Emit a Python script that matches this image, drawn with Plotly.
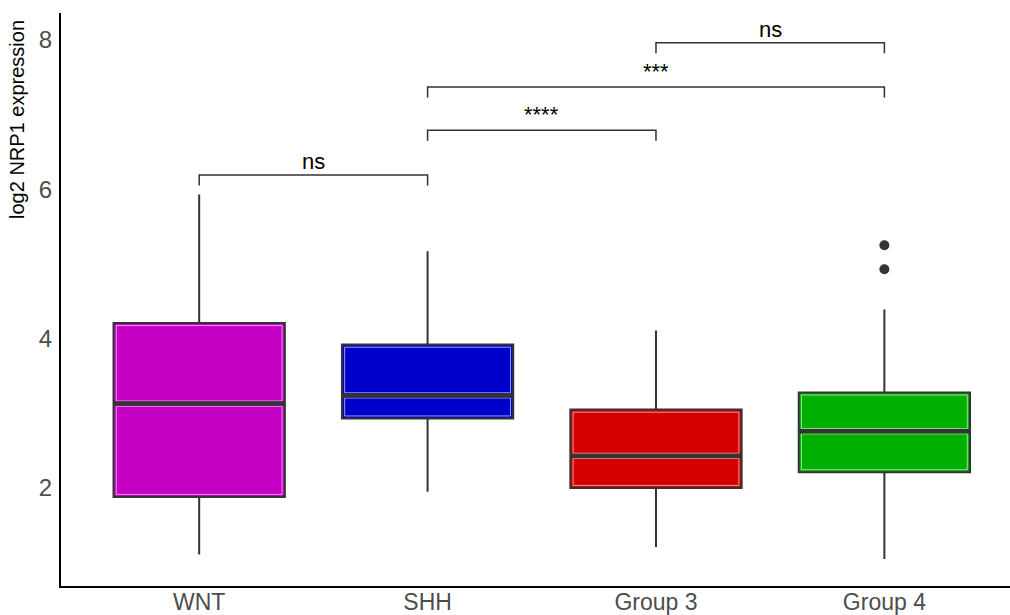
import plotly.graph_objects as go

# ---- data ----
groups = ["WNT", "SHH", "Group 3", "Group 4"]
colors = ["#C300C3", "#0000CC", "#D40000", "#00B000"]
q1 = [1.88, 2.93, 2.00, 2.21]
median = [3.13, 3.24, 2.43, 2.76]
q3 = [4.21, 3.92, 3.05, 3.28]
lower_whisker = [1.11, 1.95, 1.21, 1.05]
upper_whisker = [5.93, 5.17, 4.11, 4.39]
outlier_group = [3, 3]
outlier_values = [5.25, 4.93]

# significance brackets
bracket_left = [0, 1, 1, 2]
bracket_right = [1, 2, 3, 3]
bracket_y = [6.19, 6.79, 7.37, 7.96]
bracket_label = ["ns", "****", "***", "ns"]

box_width = 0.75
tick_drop = 0.14
dark = "#333333"
inset_x = 0.012   # inner highlight inset (style)
inset_y = 0.035

fig = go.Figure()

for i, g in enumerate(groups):
    fig.add_trace(go.Box(
        x=[i], q1=[q1[i]], median=[median[i]], q3=[q3[i]],
        lowerfence=[lower_whisker[i]], upperfence=[upper_whisker[i]],
        width=box_width, whiskerwidth=0, fillcolor=colors[i],
        line=dict(color=dark, width=2), boxpoints=False,
        name=g, showlegend=False, hoverinfo="skip",
    ))
    # light inner highlight of the two box halves
    xl, xr = i - box_width / 2 + inset_x, i + box_width / 2 - inset_x
    for lo, hi in ((q1[i], median[i]), (median[i], q3[i])):
        fig.add_trace(go.Scatter(
            x=[xl, xr, xr, xl, xl],
            y=[lo + inset_y, lo + inset_y, hi - inset_y, hi - inset_y, lo + inset_y],
            mode="lines", line=dict(color="rgba(255,255,255,0.6)", width=1),
            showlegend=False, hoverinfo="skip",
        ))
    # thick median bar like ggplot
    fig.add_trace(go.Scatter(
        x=[i - box_width / 2, i + box_width / 2], y=[median[i], median[i]],
        mode="lines", line=dict(color=dark, width=4.5),
        showlegend=False, hoverinfo="skip",
    ))

fig.add_trace(go.Scatter(
    x=outlier_group, y=outlier_values, mode="markers",
    marker=dict(color=dark, size=10), showlegend=False, hoverinfo="skip",
))

for l, r, yv, lab in zip(bracket_left, bracket_right, bracket_y, bracket_label):
    fig.add_trace(go.Scatter(
        x=[l, l, r, r], y=[yv - tick_drop, yv, yv, yv - tick_drop],
        mode="lines", line=dict(color=dark, width=1.5),
        showlegend=False, hoverinfo="skip",
    ))
    fig.add_annotation(
        x=(l + r) / 2, y=yv, text=lab, showarrow=False,
        yanchor="bottom", yshift=-1 if lab == "ns" else 1,
        font=dict(family="Liberation Sans, Arial", size=22, color="black"),
    )

fig.add_annotation(
    xref="paper", yref="paper", x=-0.0464, y=0.815, xanchor="center", yanchor="middle",
    text="log2 NRP1 expression", textangle=-90, showarrow=False,
    font=dict(family="Liberation Sans, Arial", size=20, color="black"),
)

fig.update_layout(
    width=1010, height=615,
    margin=dict(l=61, r=0, t=13, b=29, autoexpand=False),
    paper_bgcolor="white", plot_bgcolor="white",
    font=dict(family="Liberation Sans, Arial"),
    xaxis=dict(
        range=[-0.605, 3.55], tickvals=list(range(len(groups))), ticktext=groups,
        showgrid=False, zeroline=False, showline=True, linecolor="black", linewidth=2,
        ticks="", tickfont=dict(size=23, color="#4d4d4d"), automargin=False,
        ticklabelstandoff=-6,
    ),
    yaxis=dict(
        range=[0.688, 8.36], tickvals=[2, 4, 6, 8],
        showgrid=False, zeroline=False, showline=True, linecolor="black", linewidth=2,
        ticks="", tickfont=dict(size=24, color="#4d4d4d"), automargin=False,
        ticklabelstandoff=2,
    ),
)

fig.write_html(
    "out.html",
    config={"displayModeBar": False},
    post_script="document.body.style.margin='0';document.body.style.overflow='hidden';",
)
